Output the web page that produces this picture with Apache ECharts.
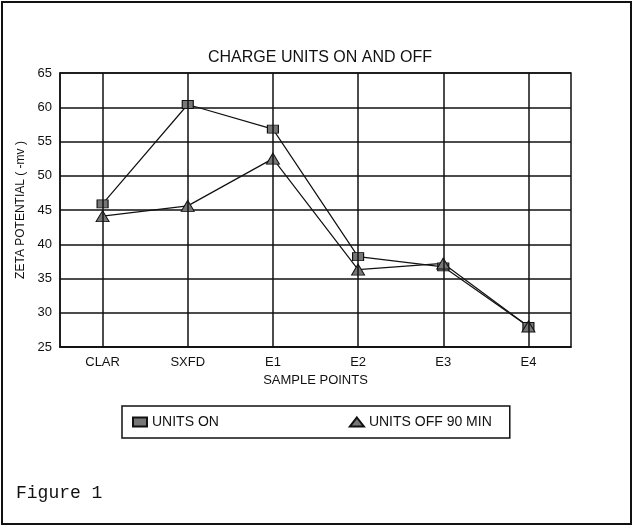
<!DOCTYPE html>
<html><head><meta charset="utf-8">
<script src="https://cdn.jsdelivr.net/npm/echarts@6/dist/echarts.min.js"></script>
<style>html,body{margin:0;padding:0;background:#fff}#c{width:635px;height:532px}</style>
</head><body><div id="c"></div>
<script>
const categories = ['CLAR','SXFD','E1','E2','E3','E4'];
const unitsOn = [45.9, 60.4, 56.8, 38.2, 36.7, 28.0];
const unitsOff = [44.1, 45.6, 52.5, 36.3, 37.2, 28.0];
const yTicks = [25,30,35,40,45,50,55,60,65];
const font = 'Liberation Sans';
const chart = echarts.init(document.getElementById('c'));
chart.setOption({
  animation:false,
  backgroundColor:'#fff',
  title:{text:'CHARGE UNITS ON AND OFF',left:315,textAlign:'center',top:45,textStyle:{fontFamily:font,fontWeight:'normal',fontSize:16,color:'#111'}},
  grid:{left:60,right:64,top:73,bottom:185},
  legend:{data:[{name:'UNITS ON',icon:'rect'},{name:'UNITS OFF 90 MIN',icon:'triangle'}],left:122,top:406,
    padding:[9,18,9,10],itemGap:130,itemWidth:14,itemHeight:9,borderColor:'#111',borderWidth:1.5,
    textStyle:{fontFamily:font,fontSize:14,color:'#111'}},
  xAxis:{type:'category',data:categories,boundaryGap:true,name:'SAMPLE POINTS',nameLocation:'middle',nameGap:22,
    nameTextStyle:{fontFamily:font,fontSize:13,color:'#111'},
    axisLine:{lineStyle:{color:'#111',width:1.5}},axisTick:{show:false},splitLine:{show:false},
    axisLabel:{fontFamily:font,fontSize:13,color:'#111',margin:9}},
  yAxis:{type:'value',min:25,max:65,interval:5,name:'ZETA POTENTIAL ( -mv )',nameLocation:'middle',nameGap:32,
    nameTextStyle:{fontFamily:font,fontSize:12,color:'#111'},
    axisLine:{show:true,lineStyle:{color:'#111',width:1.5}},axisTick:{show:false},
    splitLine:{lineStyle:{color:'#111',width:1.5}},
    axisLabel:{fontFamily:font,fontSize:13,color:'#111',formatter:v=>yTicks.includes(v)?String(v):''}},
  graphic:[
    {type:'rect',shape:{x:2,y:2,width:629,height:522},style:{fill:'none',stroke:'#111',lineWidth:2}},
    {type:'rect',shape:{x:60,y:73,width:511,height:274},style:{fill:'none',stroke:'#111',lineWidth:1.5}},
    {type:'text',left:16,top:484,style:{text:'Figure 1',fontFamily:'Liberation Mono',fontSize:18,fill:'#111'}}
  ],
  series:[
    {name:'UNITS ON',type:'line',data:unitsOn,symbol:'rect',symbolSize:[11,8],
      lineStyle:{color:'#111',width:1.2},itemStyle:{color:'#777',borderColor:'#111',borderWidth:1},
      markLine:{silent:true,symbol:'none',label:{show:false},lineStyle:{color:'#111',width:1.5,type:'solid'},
        data:categories.map(c=>({xAxis:c}))}},
    {name:'UNITS OFF 90 MIN',type:'line',data:unitsOff,symbol:'triangle',symbolSize:[13,11],
      lineStyle:{color:'#111',width:1.2},itemStyle:{color:'#777',borderColor:'#111',borderWidth:1}}
  ]
});
</script></body></html>
